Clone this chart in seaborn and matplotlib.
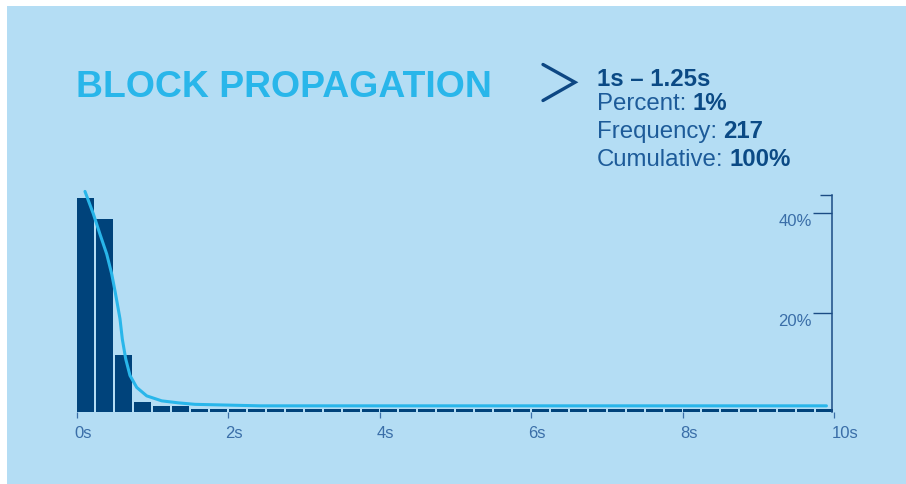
import numpy as np
import pandas as pd
import matplotlib.pyplot as plt
import matplotlib.transforms as mtransforms
from matplotlib.lines import Line2D
from matplotlib.patches import Rectangle
import seaborn as sns

# Histogram of block propagation time (0.25 s bins, share of blocks in %)
bin_width = 0.25
bin_start = np.arange(0, 10, bin_width)
bar_pct = [43.0, 38.9, 11.5, 2.1, 1.3, 1.3, 0.7, 0.7, 0.7, 0.7,
           0.7, 0.7, 0.7, 0.7, 0.7, 0.7, 0.7, 0.7, 0.7, 0.7,
           0.7, 0.7, 0.7, 0.7, 0.7, 0.7, 0.7, 0.7, 0.7, 0.7,
           0.7, 0.7, 0.7, 0.7, 0.7, 0.7, 0.7, 0.7, 0.7, 0.7]

# Smoothed density curve
curve_x = [0.112, 0.222, 0.310, 0.399, 0.465, 0.508, 0.539, 0.574, 0.605,
           0.650, 0.706, 0.795, 0.927, 1.125, 1.344, 1.564, 2.42, 9.9]
curve_y = [44.4, 39.9, 35.8, 31.8, 27.8, 24.4, 21.8, 18.8, 14.7,
           10.7, 7.4, 5.0, 3.3, 2.3, 1.9, 1.6, 1.3, 1.3]

x_ticks = [0, 2, 4, 6, 8, 10]
x_labels = ["0s", "2s", "4s", "6s", "8s", "10s"]
y_ticks = [20, 40]
y_labels = ["20%", "40%"]

title = "BLOCK PROPAGATION"
info_head = "1s \u2013 1.25s"
info_rows = [("Percent:", "1%"), ("Frequency:", "217"), ("Cumulative:", "100%")]

BG = "#b4ddf4"
NAVY = "#00437b"
CYAN = "#29b6ea"
TEXT = "#1d5b99"
AXIS = "#3a6ea8"

hist_df = pd.DataFrame({"t": bin_start + bin_width / 2, "pct": bar_pct})
curve_df = pd.DataFrame({"t": curve_x, "pct": curve_y})

sns.set_style("white")
plt.rcParams["font.family"] = ["Liberation Sans", "DejaVu Sans"]

W, H = 906, 485
fig = plt.figure(figsize=(W / 100, H / 100), dpi=100, facecolor="white")
fig.patches.append(Rectangle((7 / W, 0), 1, 1 - 7 / H, transform=fig.transFigure,
                             facecolor=BG, edgecolor="none", zorder=-10))


def fx(x):
    return x / W


def fy(y):
    return 1 - y / H


ax = fig.add_axes([76.5 / W, fy(413.3), 757.5 / W, (413.3 - 196.4) / H])
ax.set_facecolor("none")

sns.histplot(data=hist_df, x="t", weights="pct",
             bins=list(np.append(bin_start, 10)), shrink=17 / 19,
             color=NAVY, alpha=1, edgecolor="none", linewidth=0, ax=ax)
sns.lineplot(data=curve_df, x="t", y="pct", color=CYAN, linewidth=2.2,
             clip_on=False, solid_capstyle="round", solid_joinstyle="round", ax=ax)

ax.set_xlim(0, 10)
ax.set_ylim(0, 43.6)
ax.set_xlabel("")
ax.set_ylabel("")

for s in ["top", "right", "bottom"]:
    ax.spines[s].set_visible(False)
ax.spines["left"].set_position(("data", 9.976))
ax.spines["left"].set_color("#1b4c84")
ax.spines["left"].set_linewidth(1.1)

ax.set_xticks(x_ticks)
ax.set_xticklabels(x_labels)
ax.tick_params(axis="x", direction="out", length=4, width=0.9, color=AXIS,
               labelcolor=AXIS, labelsize=12, pad=5.5, bottom=True)
shift = mtransforms.ScaledTranslation(-0.025, 0, fig.dpi_scale_trans)
for lab in ax.get_xticklabels():
    lab.set_ha("left")
    lab.set_transform(lab.get_transform() + shift)

ax.set_yticks(y_ticks)
ax.set_yticklabels(y_labels)
ax.set_yticks([43.6], minor=True)
ax.tick_params(axis="y", which="major", direction="out", length=13.5, width=1.0,
               color="#1b4c84", labelcolor=AXIS, labelsize=12, pad=1, left=True)
ax.tick_params(axis="y", which="minor", direction="out", length=9, width=1.0,
               color="#1b4c84", left=True)
for lab in ax.get_yticklabels():
    lab.set_va("top")

# title and info block
fig.text(fx(75.5), fy(97.5), title, fontsize=26.9, fontweight="bold",
         color=CYAN, va="baseline", ha="left")

fig.add_artist(Line2D([fx(543), fx(575), fx(543)], [fy(65.5), fy(83.3), fy(101.5)],
                      transform=fig.transFigure, color="#0d4783", linewidth=2.4,
                      solid_capstyle="round", solid_joinstyle="miter"))

fig.text(fx(597), fy(85.5), info_head, fontsize=17.3, fontweight="bold",
         color="#0b4a85", va="baseline", ha="left")
for (label, value), yb in zip(info_rows, [109.5, 138, 166.5]):
    t = fig.text(fx(597), fy(yb), label, fontsize=17.3, color=TEXT,
                 va="baseline", ha="left")
    ax.annotate(value, xy=(1, fy(yb)), xycoords=(t, fig.transFigure),
                xytext=(4.6, 0), textcoords="offset points",
                fontsize=17.3, fontweight="bold", color="#0b4a85",
                va="baseline", ha="left", annotation_clip=False)

fig.savefig("out.png", dpi=100, facecolor=fig.get_facecolor())
